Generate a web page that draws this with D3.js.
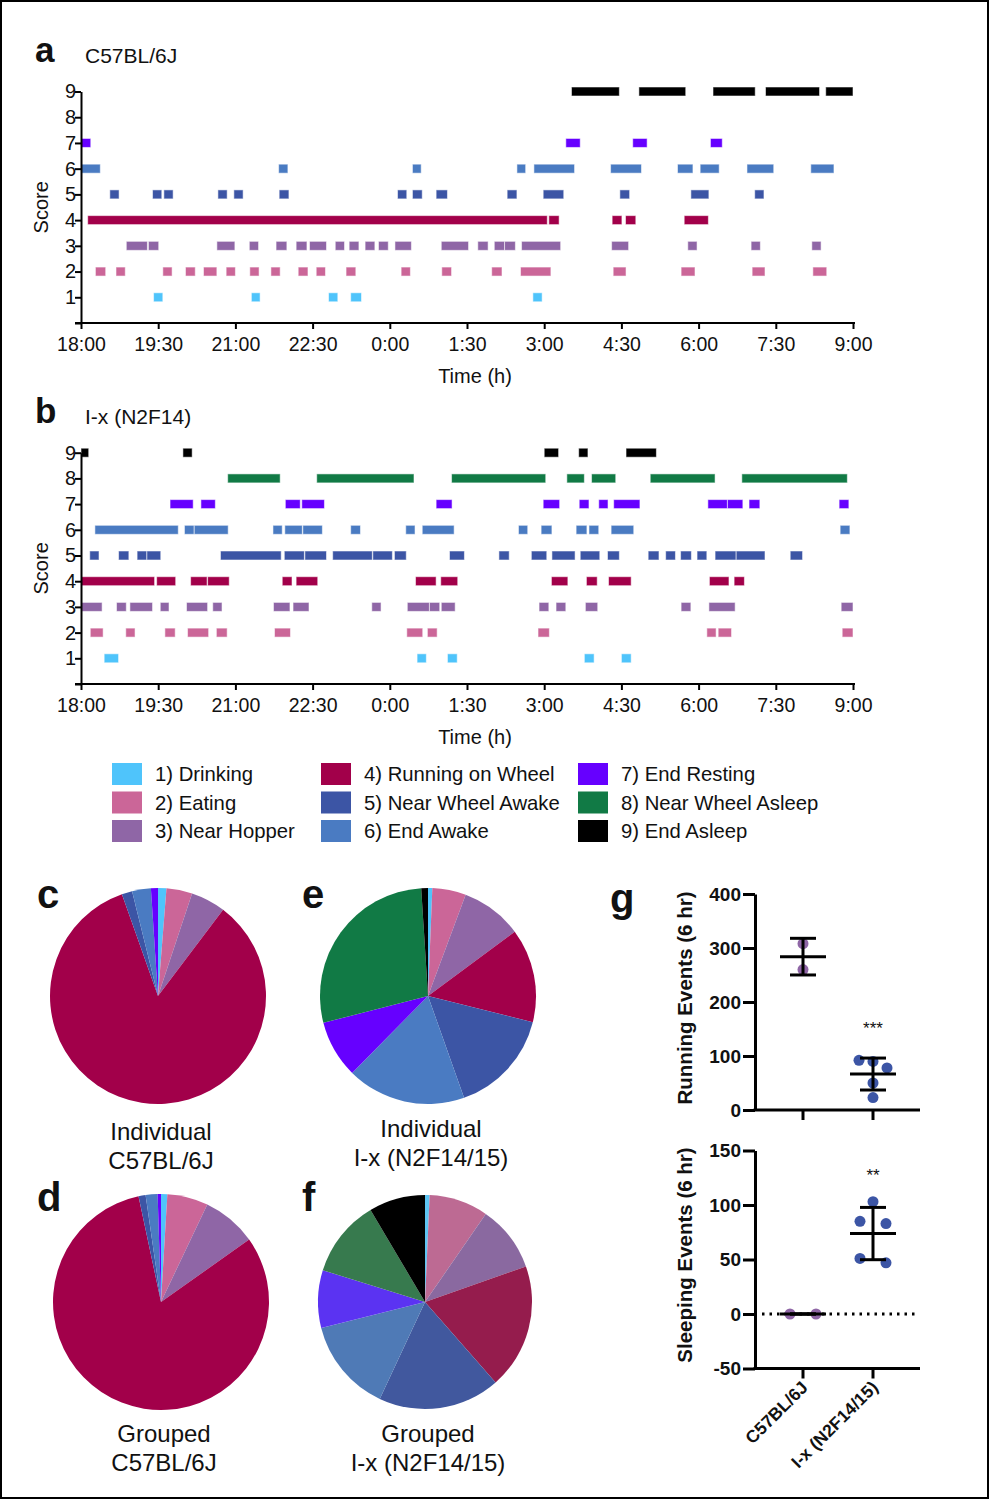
<!DOCTYPE html>
<html><head><meta charset="utf-8">
<script src="https://cdn.jsdelivr.net/npm/d3@7"></script>
<style>
body{margin:0;background:#fff}
svg{display:block}
text{font-family:"Liberation Sans",Arial,Helvetica,sans-serif;fill:#111}
</style>
</head><body>
<svg id="c" width="989" height="1500"></svg>
<script>
// ---------- shared categories ----------
const behaviors = ["1) Drinking","2) Eating","3) Near Hopper","4) Running on Wheel","5) Near Wheel Awake","6) End Awake","7) End Resting","8) Near Wheel Asleep","9) End Asleep"];
const colors = ["#4fc4fb","#cb6698","#8f66a6","#a2004a","#3c55a5","#4a7bc2","#6600ff","#117a45","#000000"];
const groupedIxColors = ["#5dc5f3","#bd6a93","#8a69a0","#951c4d","#41589e","#4f7ab6","#5b33f2","#377a4e","#000000"];
const timeTicks = [0,1.5,3,4.5,6,7.5,9,10.5,12,13.5,15];               // hours after 18:00
const timeTickLabels = ["18:00","19:30","21:00","22:30","0:00","1:30","3:00","4:30","6:00","7:30","9:00"];
const scoreTicks = [0,1,2,3,4,5,6,7,8,9];

// ---------- panel a : C57BL/6J bouts [start,end] in hours after 18:00 ----------
const a1 = [[1.41,1.59],[3.31,3.48],[4.81,4.99],[5.24,5.45],[8.78,8.96]];
const a2 = [[0.28,0.48],[0.68,0.86],[1.59,1.77],[2.03,2.22],[2.38,2.64],[2.82,3.00],[3.28,3.46],[3.69,3.87],[4.22,4.41],[4.57,4.75],[5.15,5.34],[6.22,6.40],[7.01,7.20],[7.98,8.18],[8.54,9.13],[10.34,10.59],[11.66,11.93],[13.04,13.29],[14.22,14.49]];
const a3 = [[0.88,1.29],[1.31,1.51],[2.64,2.99],[3.27,3.45],[3.79,4.00],[4.18,4.39],[4.44,4.77],[4.94,5.12],[5.21,5.40],[5.52,5.71],[5.78,5.97],[6.10,6.42],[7.00,7.53],[7.71,7.91],[8.03,8.23],[8.23,8.44],[8.56,9.32],[10.31,10.64],[11.79,11.97],[13.02,13.20],[14.20,14.38]];
const a4 = [[0.13,9.06],[9.09,9.29],[10.32,10.51],[10.58,10.78],[11.72,12.19]];
const a5 = [[0.56,0.74],[1.39,1.57],[1.61,1.79],[2.66,2.84],[2.97,3.15],[3.85,4.04],[6.15,6.33],[6.44,6.63],[6.90,7.12],[8.28,8.47],[8.98,9.38],[10.47,10.66],[11.85,12.20],[13.09,13.27]];
const a6 = [[0,0.375],[3.84,4.02],[6.44,6.61],[8.47,8.64],[8.80,9.59],[10.29,10.89],[11.59,11.89],[12.03,12.40],[12.94,13.46],[14.18,14.63]];
const a7 = [[0,0.19],[9.42,9.70],[10.72,11.0],[12.23,12.46]];
const a8 = [];
const a9 = [[9.53,10.46],[10.84,11.75],[12.28,13.10],[13.30,14.35],[14.47,15.0]];

// ---------- panel b : I-x (N2F14) ----------
const b1 = [[0.45,0.73],[6.53,6.71],[7.12,7.31],[9.78,9.97],[10.50,10.69]];
const b2 = [[0.18,0.43],[0.87,1.05],[1.63,1.83],[2.07,2.48],[2.63,2.84],[3.76,4.07],[6.33,6.64],[6.73,6.92],[8.88,9.10],[12.16,12.34],[12.38,12.64],[14.79,15.0]];
const b3 = [[0,0.41],[0.69,0.88],[0.95,1.39],[1.54,1.71],[2.05,2.46],[2.56,2.74],[3.74,4.06],[4.12,4.43],[5.65,5.83],[6.34,6.77],[6.77,6.97],[7.00,7.27],[8.90,9.09],[9.23,9.42],[9.80,10.04],[11.66,11.85],[12.20,12.71],[14.77,15.0]];
const b4 = [[0,1.43],[1.47,1.84],[2.13,2.45],[2.46,2.88],[3.91,4.10],[4.18,4.60],[6.50,6.90],[6.99,7.32],[9.14,9.46],[9.82,10.03],[10.25,10.69],[12.21,12.59],[12.69,12.89]];
const b5 = [[0.17,0.35],[0.73,0.93],[1.09,1.28],[1.28,1.55],[2.71,3.89],[3.95,4.34],[4.35,4.77],[4.89,5.66],[5.67,6.05],[6.09,6.32],[7.16,7.45],[8.12,8.32],[8.75,9.05],[9.15,9.60],[9.70,10.08],[10.23,10.46],[11.02,11.23],[11.36,11.55],[11.65,11.86],[11.97,12.16],[12.32,12.73],[12.73,13.29],[13.78,14.02]];
const b6 = [[0.27,1.89],[2.01,2.20],[2.20,2.86],[3.73,3.91],[3.96,4.30],[4.31,4.69],[5.24,5.43],[6.31,6.49],[6.63,7.25],[8.50,8.68],[8.94,9.15],[9.62,9.83],[9.87,10.06],[10.30,10.74],[14.75,14.94]];
const b7 = [[1.73,2.18],[2.33,2.61],[3.97,4.26],[4.29,4.73],[6.90,7.21],[8.98,9.30],[9.68,9.87],[10.06,10.24],[10.35,10.86],[12.18,12.56],[12.56,12.86],[12.98,13.19],[14.73,14.92]];
const b8 = [[2.85,3.87],[4.58,6.47],[7.20,9.03],[9.44,9.78],[9.92,10.39],[11.06,12.32],[12.84,14.89]];
const b9 = [[0,0.15],[1.98,2.16],[9.00,9.28],[9.67,9.85],[10.59,11.18]];

// ---------- pies : % of time per behaviour (1..9) ----------
const pieIndivC57 = [1.25,3.86,5.19,84.28,1.56,2.81,1.05,0,0];
const pieIndivIx  = [0.64,5.03,9.17,14.06,15.69,17.81,8.61,28.0,1.0];
const pieGroupC57 = [0.94,6.11,8.14,81.47,1.06,1.78,0.5,0,0];
const pieGroupIx  = [0.69,8.92,10.0,18.92,18.42,14.14,8.69,11.72,8.5];

// ---------- panel g ----------
const groups = ["C57BL/6J","I-x (N2F14/15)"];
const runC57 = [308,260];
const runIx = [90,92,78,50,23];
const sleepC57 = [0,0];
const sleepIx = [103,85,83,51,47];
const runTicks = [0,100,200,300,400];
const sleepTicks = [-50,0,50,100,150];

// =====================================================
const svg = d3.select("#c");
svg.append("rect").attr("x",1).attr("y",1).attr("width",987).attr("height",1497)
  .attr("fill","none").attr("stroke","#000").attr("stroke-width",2);

function styleAxis(g, w){
  g.selectAll("path.domain").attr("stroke","#000").attr("stroke-width",w);
  g.selectAll(".tick line").attr("stroke","#000").attr("stroke-width",w);
  g.selectAll(".tick text").attr("fill","#111");
}

function timeline(bouts, top, bottom, letter, title, letterY){
  const x = d3.scaleLinear().domain([0,15]).range([81,853]);
  const y = d3.scaleLinear().domain([0,9]).range([bottom, top]);
  const g = svg.append("g");
  g.append("text").attr("x",35).attr("y",letterY).attr("font-size",35).attr("font-weight","bold").text(letter);
  g.append("text").attr("x",85).attr("y",letterY+1).attr("font-size",21).text(title);
  bouts.forEach((arr, i) => {
    g.append("g").selectAll("rect").data(arr).join("rect")
      .attr("x", d => x(d[0])).attr("width", d => Math.max(1, x(d[1]) - x(d[0])))
      .attr("y", y(i+1) - 4.5).attr("height", 9)
      .attr("fill", colors[i]).attr("stroke","rgba(255,255,255,0.55)").attr("stroke-width",1);
  });
  const ya = g.append("g").attr("transform",`translate(81,0)`)
    .call(d3.axisLeft(y).tickValues(scoreTicks).tickFormat(d => d===0 ? "" : String(d)).tickSize(6).tickSizeOuter(0));
  ya.selectAll("text").attr("font-size",20).attr("x",-5);
  styleAxis(ya, 2);
  const xa = g.append("g").attr("transform",`translate(0,${bottom})`)
    .call(d3.axisBottom(x).tickValues(timeTicks).tickFormat((d,i) => timeTickLabels[i]).tickSize(6).tickSizeOuter(0));
  xa.selectAll("text").attr("font-size",19.5).attr("dy","0.95em");
  xa.select("path.domain").attr("d",`M75,0H855`);
  styleAxis(xa, 2);
  g.append("text").attr("transform",`translate(48,${(top+bottom)/2}) rotate(-90)`)
    .attr("text-anchor","middle").attr("font-size",20).text("Score");
  g.append("text").attr("x",475).attr("y",bottom+60).attr("text-anchor","middle").attr("font-size",20).text("Time (h)");
}

timeline([a1,a2,a3,a4,a5,a6,a7,a8,a9], 91.5, 323, "a", "C57BL/6J", 62);
timeline([b1,b2,b3,b4,b5,b6,b7,b8,b9], 452.7, 684, "b", "I-x (N2F14)", 423);

// ---------- legend ----------
const legCols = [[0,1,2],[3,4,5],[6,7,8]];
const legX = [112,321,578];
legCols.forEach((col, ci) => {
  col.forEach((bi, ri) => {
    const cy = 774 + ri*28.5;
    svg.append("rect").attr("x",legX[ci]).attr("y",cy-11).attr("width",30).attr("height",22).attr("fill",colors[bi]);
    svg.append("text").attr("x",legX[ci]+43).attr("y",cy+7).attr("font-size",20.3).text(behaviors[bi]);
  });
});

// ---------- pies ----------
function pie(vals, cx, cy, r, cols, letter, lx, ly, l1, l2, labY){
  const arcs = d3.pie().sort(null).value(d => d)(vals);
  const arc = d3.arc().innerRadius(0).outerRadius(r);
  const g = svg.append("g").attr("transform",`translate(${cx},${cy})`);
  g.selectAll("path").data(arcs).join("path").attr("d",arc).attr("fill",(d,i) => cols[i]);
  svg.append("text").attr("x",lx).attr("y",ly).attr("font-size",40).attr("font-weight","bold").text(letter);
  svg.append("text").attr("x",cx+3).attr("y",labY).attr("text-anchor","middle").attr("font-size",24).text(l1);
  svg.append("text").attr("x",cx+3).attr("y",labY+29).attr("text-anchor","middle").attr("font-size",24).text(l2);
}
pie(pieIndivC57, 158, 996, 108, colors, "c", 37, 908, "Individual", "C57BL/6J", 1140);
pie(pieIndivIx, 428, 996, 108, colors, "e", 302, 908, "Individual", "I-x (N2F14/15)", 1137);
pie(pieGroupC57, 161, 1302, 108, colors, "d", 37, 1211, "Grouped", "C57BL/6J", 1442);
pie(pieGroupIx, 425, 1302, 107, groupedIxColors, "f", 302, 1211, "Grouped", "I-x (N2F14/15)", 1442);

// ---------- panel g ----------
svg.append("text").attr("x",610).attr("y",912).attr("font-size",40).attr("font-weight","bold").text("g");
const xg = d3.scalePoint().domain(groups).range([803,873]);
const dotCols = ["#8f66a6","#3c55a5"];

function jitter(vals, y){
  // beeswarm-like: cluster values whose pixel gap < 12, spread symmetrically
  const idx = vals.map((v,i)=>i).sort((a,b)=>vals[b]-vals[a]);
  const off = new Array(vals.length).fill(0);
  let cluster = [idx[0]];
  const flush = () => {
    const n = cluster.length;
    cluster.forEach((k,j) => off[k] = (j - (n-1)/2) * (n===2 ? 26 : 14));
  };
  for (let j=1;j<idx.length;j++){
    if (Math.abs(y(vals[idx[j]]) - y(vals[cluster[cluster.length-1]])) < 12) cluster.push(idx[j]);
    else { flush(); cluster = [idx[j]]; }
  }
  flush();
  return off;
}

function scatter(series, y, ticks, axisY, yLabel, labelCY, star, showLabels, dotted){
  const g = svg.append("g");
  const ya = g.append("g").attr("transform","translate(755,0)")
    .call(d3.axisLeft(y).tickValues(ticks).tickFormat(d => String(d)).tickSize(12).tickSizeOuter(0));
  ya.selectAll("text").attr("font-size",19).attr("font-weight","bold").attr("x",-14);
  styleAxis(ya, 3);
  g.append("line").attr("x1",753.5).attr("x2",920).attr("y1",axisY).attr("y2",axisY).attr("stroke","#000").attr("stroke-width",3);
  groups.forEach(gr => g.append("line").attr("x1",xg(gr)).attr("x2",xg(gr)).attr("y1",axisY).attr("y2",axisY+10).attr("stroke","#000").attr("stroke-width",3));
  if (dotted) g.append("line").attr("x1",762).attr("x2",918).attr("y1",y(0)).attr("y2",y(0))
      .attr("stroke","#000").attr("stroke-width",3).attr("stroke-dasharray","2.5,5");
  g.append("text").attr("transform",`translate(692,${labelCY}) rotate(-90)`).attr("text-anchor","middle")
    .attr("font-size",20.5).attr("font-weight","bold").text(yLabel);
  series.forEach((vals, si) => {
    const cx = xg(groups[si]);
    const m = d3.mean(vals), sd = d3.deviation(vals);
    const off = jitter(vals, y);
    g.append("g").selectAll("circle").data(vals).join("circle")
      .attr("cx",(d,i)=>cx+off[i]).attr("cy",d=>y(d)).attr("r",5.5).attr("fill",dotCols[si]);
    const lw = 3;
    g.append("line").attr("x1",cx).attr("x2",cx).attr("y1",y(m-sd)).attr("y2",y(m+sd)).attr("stroke","#000").attr("stroke-width",lw);
    [m-sd,m+sd].forEach(v => g.append("line").attr("x1",cx-13).attr("x2",cx+13).attr("y1",y(v)).attr("y2",y(v)).attr("stroke","#000").attr("stroke-width",lw));
    g.append("line").attr("x1",cx-23).attr("x2",cx+23).attr("y1",y(m)).attr("y2",y(m)).attr("stroke","#000").attr("stroke-width",lw);
  });
  g.append("text").attr("x",xg(groups[1])).attr("y",star[1]).attr("text-anchor","middle").attr("font-size",17).text(star[0]);
  if (showLabels){
    groups.forEach(gr => g.append("text")
      .attr("transform",`translate(${xg(gr)+6},${axisY+20}) rotate(-45)`)
      .attr("text-anchor","end").attr("font-size",17.5).attr("font-weight","bold").text(gr));
  }
}
const yRun = d3.scaleLinear().domain([0,400]).range([1110,894]);
const ySleep = d3.scaleLinear().domain([-50,150]).range([1368.5,1150.5]);
scatter([runC57, runIx], yRun, runTicks, yRun(0), "Running Events (6 hr)", 998, ["***",1034], false, false);
scatter([sleepC57, sleepIx], ySleep, sleepTicks, ySleep(-50), "Sleeping Events (6 hr)", 1255, ["**",1181], true, true);
</script>
</body></html>
